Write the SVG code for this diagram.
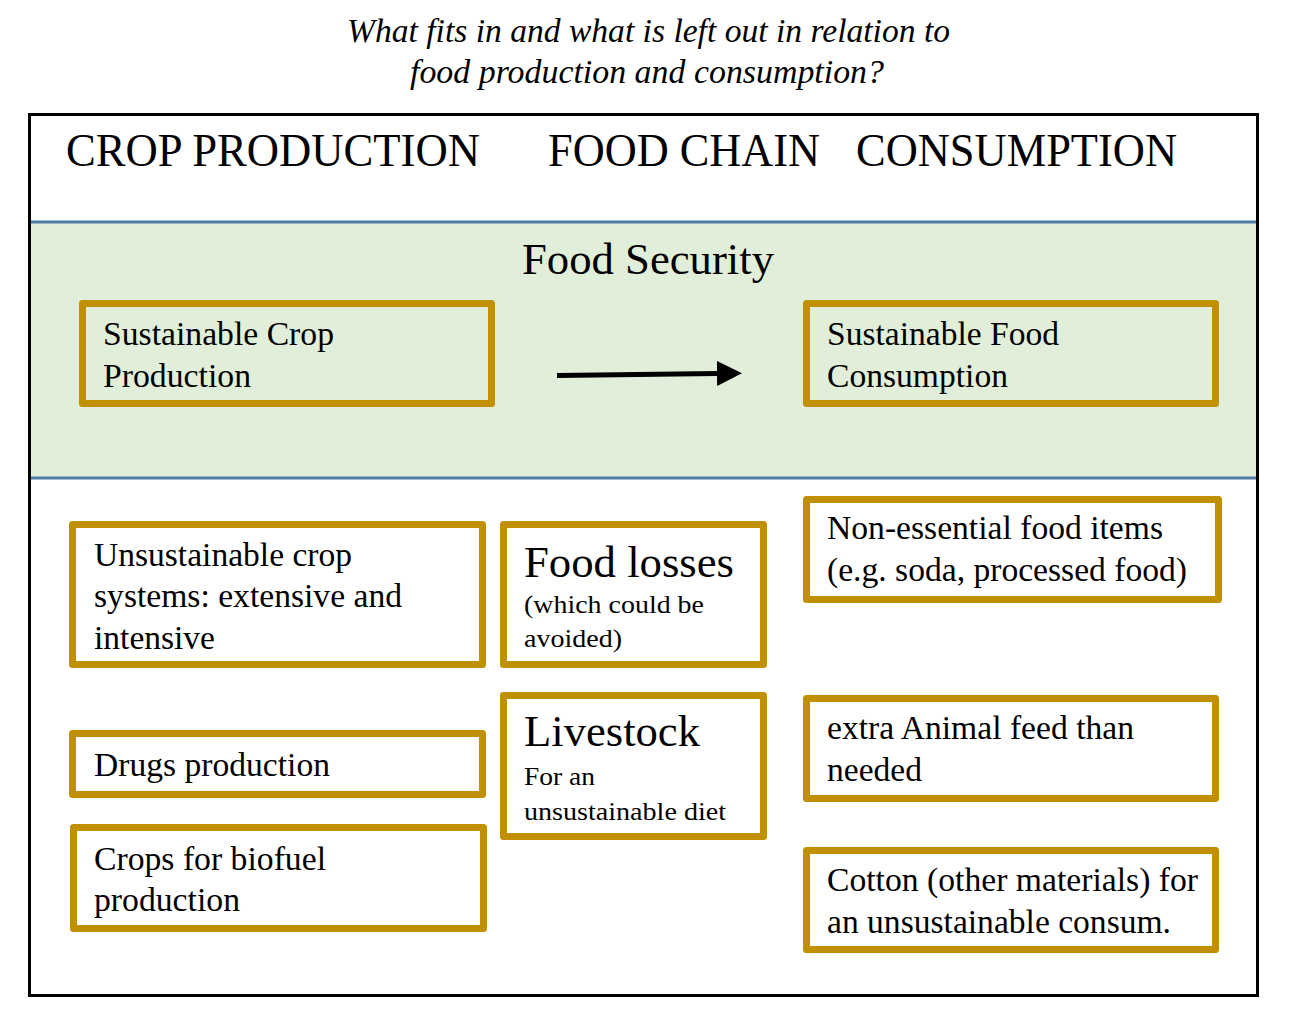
<svg xmlns="http://www.w3.org/2000/svg" width="1289" height="1035" viewBox="0 0 1289 1035">
<style>
.box{fill:#fff;stroke:#c09000;stroke-width:7;stroke-linejoin:round}
.gbox{fill:#e1eed9;stroke:#c09000;stroke-width:7;stroke-linejoin:round}
.t32{font-size:34px}
.t42{font-size:45px}
.t24{font-size:26px}
.hdr{font-size:46px}
</style>
<defs>
<marker id="ah" markerWidth="5" markerHeight="5" refX="0" refY="2.5" orient="auto" markerUnits="strokeWidth">
<path d="M0,0 L5,2.5 L0,5 Z" fill="#000"/>
</marker>
</defs>
<rect width="1289" height="1035" fill="#fff"/>
<g font-family="Liberation Serif, DejaVu Serif, serif" fill="#000" lengthAdjust="spacingAndGlyphs">
<g id="title">
<text x="347" y="42" font-style="italic" font-size="34" textLength="603" lengthAdjust="spacingAndGlyphs">What fits in and what is left out in relation to</text>
<text x="410" y="83" font-style="italic" font-size="34" textLength="474" lengthAdjust="spacingAndGlyphs">food production and consumption?</text>
</g>
<g id="frame">
<rect x="29.5" y="114.5" width="1228" height="881" fill="#fff" stroke="#000" stroke-width="3"/>
<rect x="31" y="222" width="1225" height="256" fill="#e1eed9"/>
<line x1="31" y1="222" x2="1256" y2="222" stroke="#4f7ba7" stroke-width="3"/>
<line x1="31" y1="478" x2="1256" y2="478" stroke="#4f7ba7" stroke-width="3"/>
</g>
<g id="headers">
<text x="66" y="166" class="hdr" textLength="414" lengthAdjust="spacingAndGlyphs">CROP PRODUCTION</text>
<text x="548" y="166" class="hdr" textLength="272" lengthAdjust="spacingAndGlyphs">FOOD CHAIN</text>
<text x="856" y="166" class="hdr" textLength="321" lengthAdjust="spacingAndGlyphs">CONSUMPTION</text>
<text x="522" y="274" class="t42" textLength="252" lengthAdjust="spacingAndGlyphs">Food Security</text>
</g>
<g id="n-scp">
<rect x="82.5" y="303.5" width="409" height="100" class="gbox"/>
<text x="103" y="345" class="t32" textLength="231" lengthAdjust="spacingAndGlyphs">Sustainable Crop</text>
<text x="103" y="387" class="t32" textLength="148" lengthAdjust="spacingAndGlyphs">Production</text>
</g>
<g id="n-sfc">
<rect x="806.5" y="303.5" width="409" height="100" class="gbox"/>
<text x="827" y="345" class="t32" textLength="232" lengthAdjust="spacingAndGlyphs">Sustainable Food</text>
<text x="827" y="387" class="t32" textLength="181" lengthAdjust="spacingAndGlyphs">Consumption</text>
</g>
<g id="connectors">
<line x1="557" y1="375.5" x2="717" y2="373.5" stroke="#000" stroke-width="5" marker-end="url(#ah)"/>
</g>
<g id="n-ucs">
<rect x="72.5" y="524.5" width="410" height="140" class="box"/>
<text x="94" y="566" class="t32" textLength="258" lengthAdjust="spacingAndGlyphs">Unsustainable crop</text>
<text x="94" y="607" class="t32" textLength="308" lengthAdjust="spacingAndGlyphs">systems: extensive and</text>
<text x="94" y="649" class="t32" textLength="121" lengthAdjust="spacingAndGlyphs">intensive</text>
</g>
<g id="n-fl">
<rect x="503.5" y="524.5" width="260" height="140" class="box"/>
<text x="524" y="577" class="t42" textLength="210" lengthAdjust="spacingAndGlyphs">Food losses</text>
<text x="524" y="613" class="t24" textLength="180" lengthAdjust="spacingAndGlyphs">(which could be</text>
<text x="524" y="647" class="t24" textLength="98" lengthAdjust="spacingAndGlyphs">avoided)</text>
</g>
<g id="n-ne">
<rect x="806.5" y="499.5" width="412" height="100" class="box"/>
<text x="827" y="539" class="t32" textLength="336" lengthAdjust="spacingAndGlyphs">Non-essential food items</text>
<text x="827" y="581" class="t32" textLength="360" lengthAdjust="spacingAndGlyphs">(e.g. soda, processed food)</text>
</g>
<g id="n-dp">
<rect x="72.5" y="733.5" width="410" height="61" class="box"/>
<text x="94" y="776" class="t32" textLength="236" lengthAdjust="spacingAndGlyphs">Drugs production</text>
</g>
<g id="n-ls">
<rect x="503.5" y="695.5" width="260" height="141" class="box"/>
<text x="524" y="746" class="t42" textLength="176" lengthAdjust="spacingAndGlyphs">Livestock</text>
<text x="524" y="785" class="t24" textLength="71" lengthAdjust="spacingAndGlyphs">For an</text>
<text x="524" y="820" class="t24" textLength="202" lengthAdjust="spacingAndGlyphs">unsustainable diet</text>
</g>
<g id="n-af">
<rect x="806.5" y="698.5" width="409" height="100" class="box"/>
<text x="827" y="739" class="t32" textLength="307" lengthAdjust="spacingAndGlyphs">extra Animal feed than</text>
<text x="827" y="781" class="t32" textLength="95" lengthAdjust="spacingAndGlyphs">needed</text>
</g>
<g id="n-bf">
<rect x="73.5" y="827.5" width="410" height="101" class="box"/>
<text x="94" y="870" class="t32" textLength="232" lengthAdjust="spacingAndGlyphs">Crops for biofuel</text>
<text x="94" y="911" class="t32" textLength="146" lengthAdjust="spacingAndGlyphs">production</text>
</g>
<g id="n-ct">
<rect x="806.5" y="850.5" width="409" height="99" class="box"/>
<text x="827" y="891" class="t32" textLength="371" lengthAdjust="spacingAndGlyphs">Cotton (other materials) for</text>
<text x="827" y="933" class="t32" textLength="344" lengthAdjust="spacingAndGlyphs">an unsustainable consum.</text>
</g>
</g>
</svg>
